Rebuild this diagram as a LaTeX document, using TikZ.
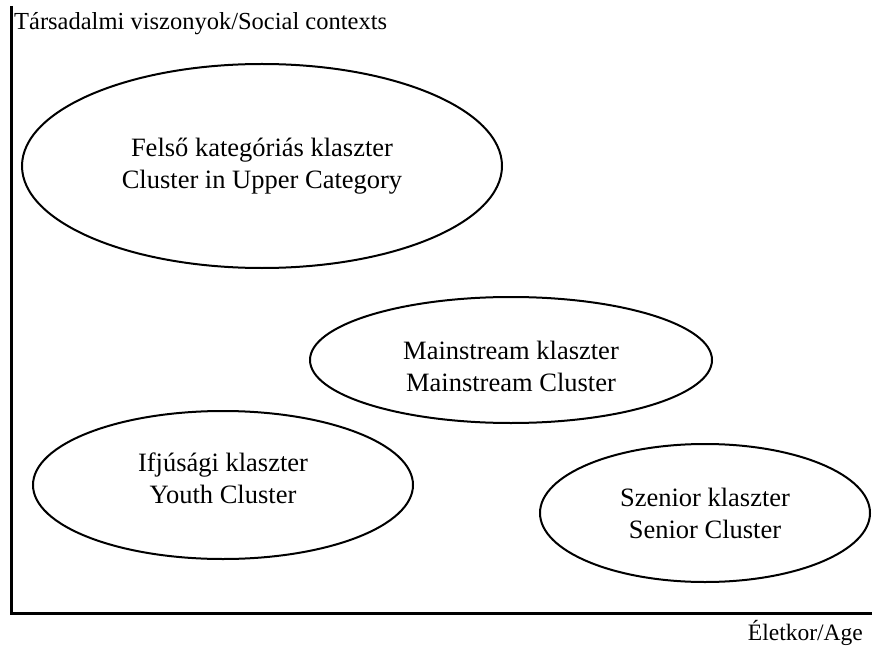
\documentclass[tikz,border=0pt]{standalone}
\usepackage{fontspec}
\setmainfont{Liberation Serif}
\usetikzlibrary{shapes.geometric}
\tikzset{
  cluster/.style={draw, ellipse, line width=2pt, inner sep=0pt, align=center, font=\fontsize{26.5}{32}\selectfont},
  axis/.style={line width=3pt},
  axlabel/.style={inner sep=0pt, font=\fontsize{24.5}{28}\selectfont}
}
\begin{document}
\begin{tikzpicture}[x=1pt,y=1pt]
\useasboundingbox (0,0) rectangle (872,-647);
\coordinate (ytop) at (11,-6);
\coordinate (orig) at (11,-613);
\coordinate (xend) at (872,-613);
\draw[axis] (ytop) -- (orig) -- (xend);
\node[axlabel, anchor=west] (ylab) at (14,-24) {Társadalmi viszonyok/Social contexts};
\node[axlabel, anchor=east, font=\fontsize{23.5}{28}\selectfont] (xlab) at (863,-633) {Életkor/Age};
\node[cluster, minimum width=480pt, minimum height=204pt] (upper) at (262,-166) {Felső kategóriás klaszter\\Cluster in Upper Category};
\node[cluster, minimum width=402pt, minimum height=126pt] (main) at (511,-360) {\rule{0pt}{32pt}Mainstream klaszter\\Mainstream Cluster};
\node[cluster, minimum width=380pt, minimum height=148pt] (youth) at (223,-485) {Ifjúsági klaszter\\Youth Cluster\rule[-14pt]{0pt}{1pt}};
\node[cluster, minimum width=330pt, minimum height=138pt] (senior) at (705,-513) {Szenior klaszter\\Senior Cluster};
\end{tikzpicture}
\end{document}
